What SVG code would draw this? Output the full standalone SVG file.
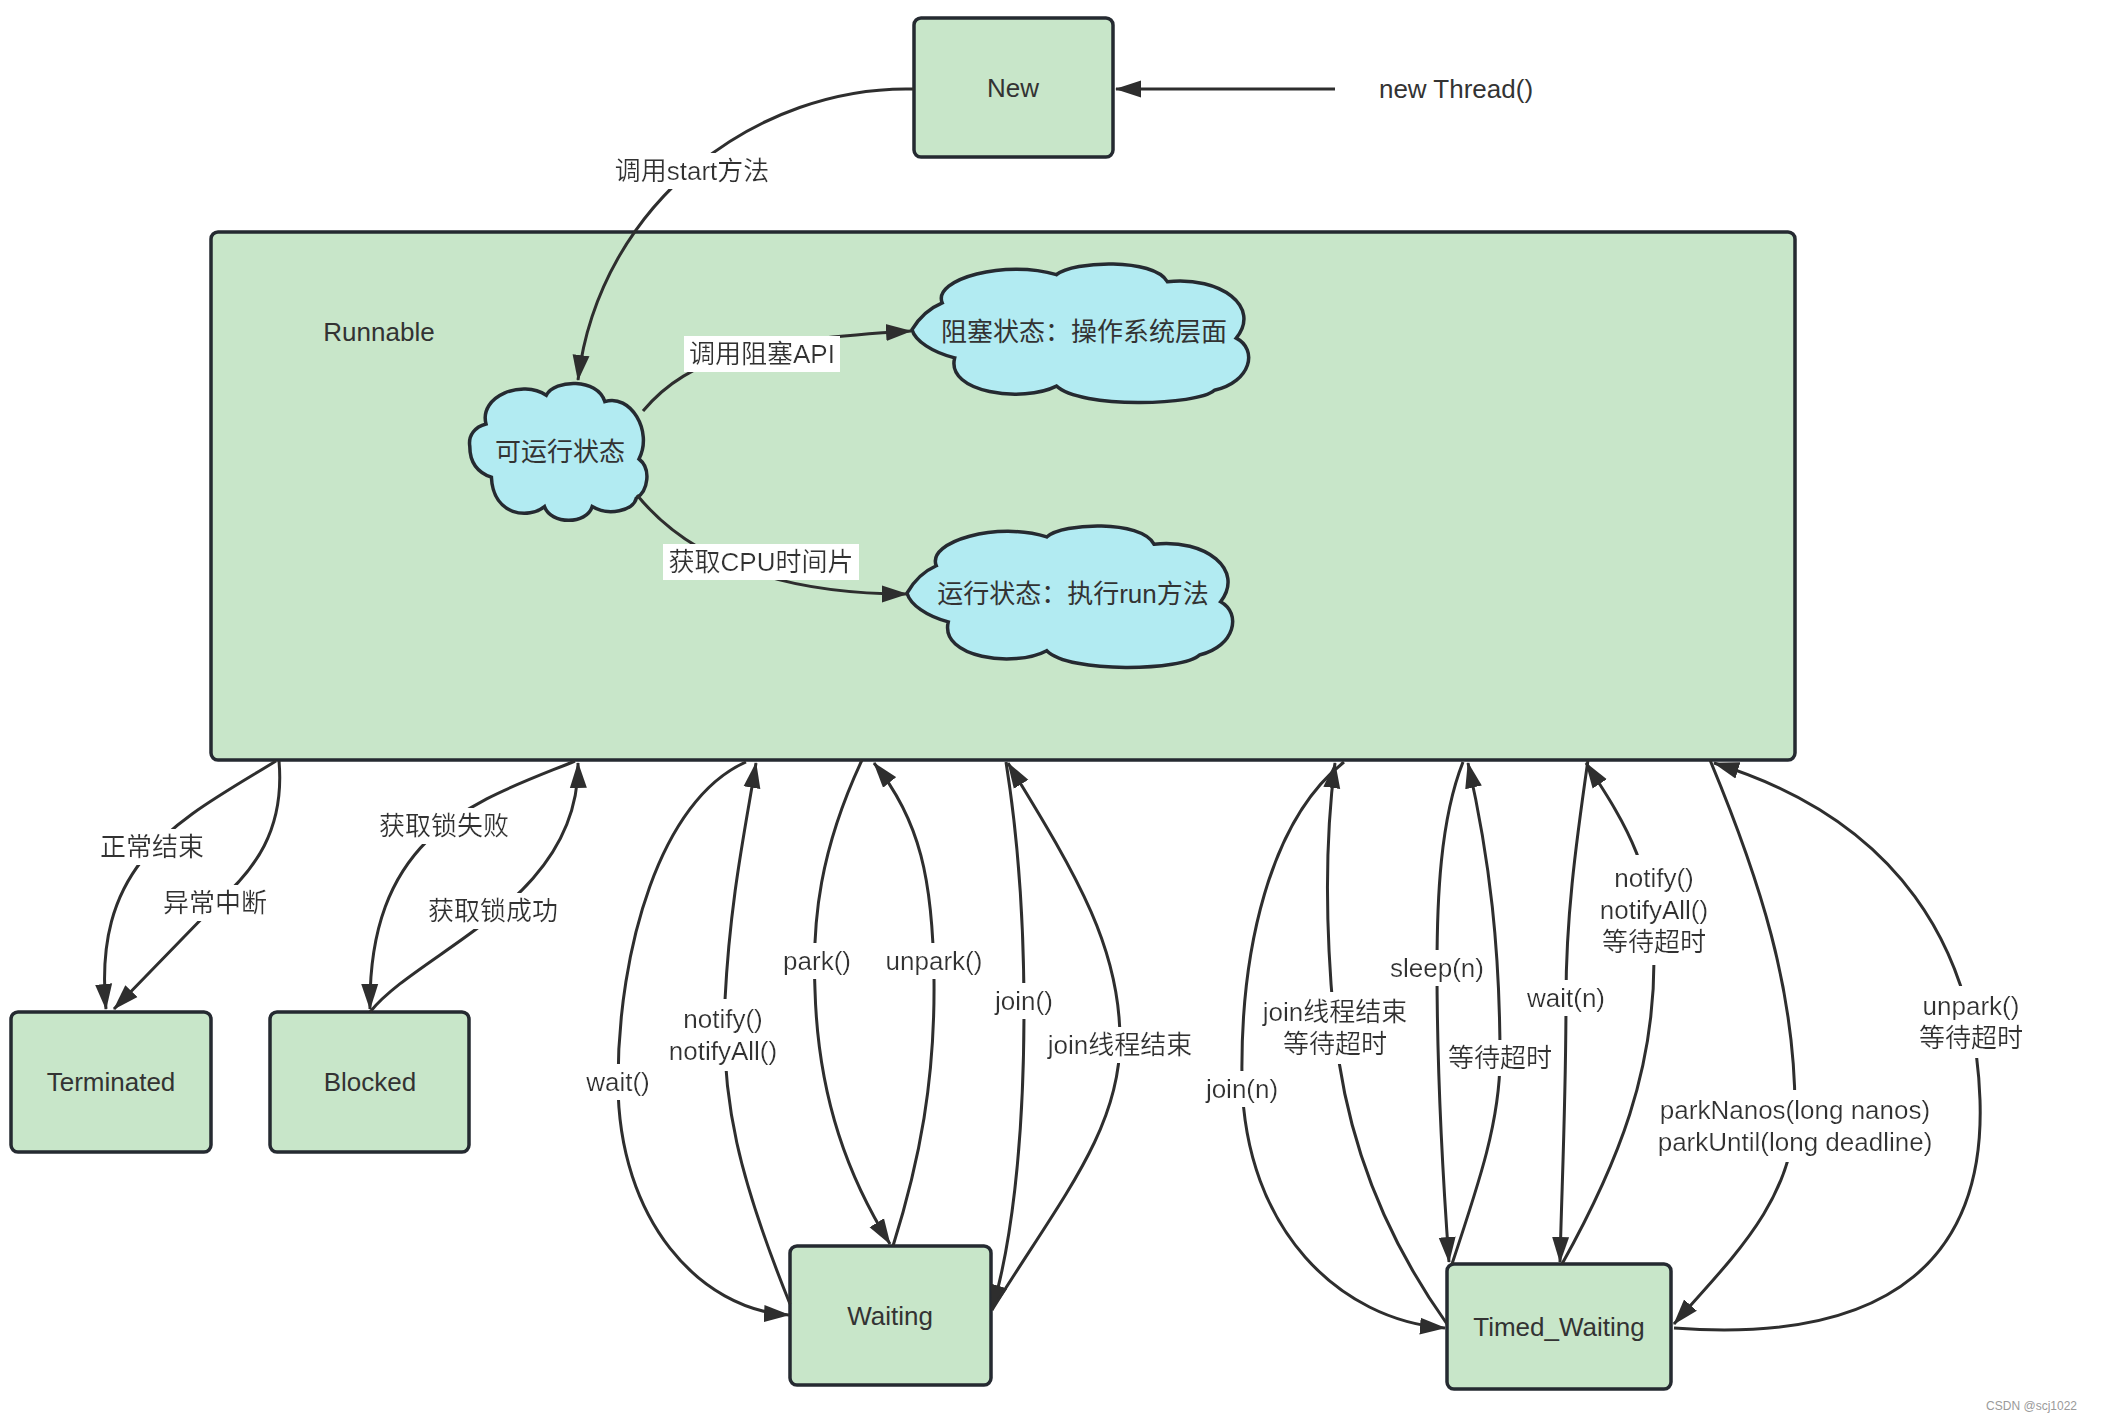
<svg xmlns="http://www.w3.org/2000/svg" width="2108" height="1422" viewBox="0 0 2108 1422">
<style>
.node{fill:#c8e6c9;stroke:#252a31;stroke-width:3.5}
.cloud{fill:#b2ebf2;stroke:#252a31;stroke-width:3.5}
.t{font-family:"Liberation Sans","Noto Sans CJK SC",sans-serif;font-size:26px;fill:#333;text-anchor:middle}
.lbl{font-family:"Liberation Sans","Noto Sans CJK SC",sans-serif;font-size:26px;fill:#333;text-anchor:middle;filter:url(#bg)}
.e{fill:none;stroke:#2e2e2e;stroke-width:3;marker-end:url(#arr)}
</style>
<defs>
<marker id="arr" markerUnits="userSpaceOnUse" markerWidth="26" markerHeight="18" viewBox="0 0 26 18" refX="25" refY="9" orient="auto">
<path d="M0,0.5 L26,9 L0,17.5 Z" fill="#2e2e2e"/>
</marker>
<filter id="bg" x="-0.03" y="-0.08" width="1.06" height="1.16">
<feFlood flood-color="#ffffff"/>
<feComposite in="SourceGraphic"/>
</filter>
</defs>
<rect width="2108" height="1422" fill="#ffffff"/>

<g id="runnable">
<rect class="node" x="211" y="232" width="1584" height="528" rx="7"/>
<text class="t" x="379" y="341">Runnable</text>
</g>

<g id="new">
<rect class="node" x="914" y="18" width="199" height="139" rx="7"/>
<text class="t" x="1013" y="97">New</text>
</g>
<g id="newThread">
<text class="t" x="1456" y="98">new Thread()</text>
</g>

<g id="runnable-state">
<path class="cloud" vector-effect="non-scaling-stroke" transform="translate(468,382) scale(1.80,1.40)" d="M 1 46 C 0 38, 4 32, 10 30 C 6 10, 30 -2, 43.5 9.5 C 48 -2, 72 -3, 76 14 C 90 8, 103 35, 95 55 C 102 62, 100 78, 93.5 83 C 92 92, 78 96, 69 89 C 66 102, 46 102, 42.5 89 C 34 98, 14 96, 13 68 C 4 64, 1 55, 1 46 Z"/>
<text class="t" x="560" y="461">可运行状态</text>
</g>
<g id="blocked-state">
<path class="cloud" vector-effect="non-scaling-stroke" transform="translate(912,262) scale(3.36,1.41)" d="M 0 48 C 2 40, 5 33, 9 29 C 6 12, 28 -2, 43 9 C 48 -1, 72 -3, 76 14 C 92 10, 104 32, 96.5 54 C 103 62, 101 85, 90 91 C 85 102, 50 104, 43 88 C 33 100, 10 93, 12.7 68 C 6 64, 1 56, 0 48 Z"/>
<text class="t" x="1084" y="341">阻塞状态：操作系统层面</text>
</g>
<g id="running-state">
<path class="cloud" vector-effect="non-scaling-stroke" transform="translate(907,524) scale(3.25,1.44)" d="M 0 48 C 2 40, 5 33, 9 29 C 6 12, 28 -2, 43 9 C 48 -1, 72 -3, 76 14 C 92 10, 104 32, 96.5 54 C 103 62, 101 85, 90 91 C 85 102, 50 104, 43 88 C 33 100, 10 93, 12.7 68 C 6 64, 1 56, 0 48 Z"/>
<text class="t" x="1073" y="603">运行状态：执行run方法</text>
</g>

<g id="terminated">
<rect class="node" x="11" y="1012" width="200" height="140" rx="7"/>
<text class="t" x="111" y="1091">Terminated</text>
</g>
<g id="blocked">
<rect class="node" x="270" y="1012" width="199" height="140" rx="7"/>
<text class="t" x="370" y="1091">Blocked</text>
</g>
<g id="waiting">
<rect class="node" x="790" y="1246" width="201" height="139" rx="7"/>
<text class="t" x="890" y="1325">Waiting</text>
</g>
<g id="timed-waiting">
<rect class="node" x="1447" y="1264" width="224" height="125" rx="7"/>
<text class="t" x="1559" y="1336">Timed_Waiting</text>
</g>

<g id="connectors">
<path class="e" d="M 1335 89 L 1116 89"/>
<path class="e" d="M 914 89 C 760 85, 600 200, 578 380"/>
<path class="e" d="M 643 411 C 690 355, 760 340, 911 331"/>
<path class="e" d="M 637 495 C 690 560, 780 594, 907 594"/>
<path class="e" d="M 276 761 C 180 820, 92 860, 106 1009"/>
<path class="e" d="M 279 761 C 285 830, 255 870, 215 905 L 114 1009"/>
<path class="e" d="M 575 761 C 480 800, 368 830, 370 1009"/>
<path class="e" d="M 370 1012 C 420 950, 580 900, 578 763"/>
<path class="e" d="M 746 762 C 660 800, 618 950, 618 1082 C 618 1220, 700 1310, 789 1315"/>
<path class="e" d="M 790 1304 C 740 1180, 720 1100, 725 1000 C 730 900, 745 830, 756 763"/>
<path class="e" d="M 862 760 C 820 850, 812 920, 815 990 C 818 1100, 850 1180, 890 1244"/>
<path class="e" d="M 893 1246 C 920 1160, 935 1080, 934 980 C 933 880, 920 820, 874 763"/>
<path class="e" d="M 1006 762 C 1020 850, 1024 930, 1024 1010 C 1024 1150, 1010 1250, 992 1310"/>
<path class="e" d="M 992 1310 C 1060 1200, 1120 1130, 1120 1040 C 1120 950, 1080 880, 1008 763"/>
<path class="e" d="M 1344 762 C 1270 820, 1240 950, 1242 1080 C 1245 1230, 1340 1320, 1445 1328"/>
<path class="e" d="M 1447 1324 C 1380 1230, 1345 1130, 1335 1030 C 1325 930, 1325 840, 1335 763"/>
<path class="e" d="M 1463 762 C 1440 820, 1437 900, 1437 968 C 1437 1080, 1443 1180, 1449 1262"/>
<path class="e" d="M 1452 1264 C 1480 1180, 1500 1120, 1500 1058 C 1500 950, 1490 860, 1468 763"/>
<path class="e" d="M 1588 760 C 1575 850, 1566 920, 1566 998 C 1566 1100, 1562 1180, 1560 1262"/>
<path class="e" d="M 1562 1264 C 1620 1160, 1654 1070, 1654 960 C 1654 870, 1630 830, 1586 763"/>
<path class="e" d="M 1710 760 C 1760 880, 1795 990, 1795 1110 C 1795 1200, 1730 1260, 1674 1324"/>
<path class="e" d="M 1674 1328 C 1900 1345, 1985 1250, 1980 1100 C 1975 950, 1900 820, 1714 763"/>

<text class="lbl" x="692" y="180">调用start方法</text>
<text class="lbl" x="762" y="363">调用阻塞API</text>
<text class="lbl" x="761" y="571">获取CPU时间片</text>
<text class="lbl" x="152" y="856">正常结束</text>
<text class="lbl" x="215" y="912">异常中断</text>
<text class="lbl" x="444" y="835">获取锁失败</text>
<text class="lbl" x="493" y="920">获取锁成功</text>
<text class="lbl" x="618" y="1091">wait()</text>
<text class="lbl" x="723" y="1028"><tspan x="723">notify()</tspan><tspan x="723" dy="32">notifyAll()</tspan></text>
<text class="lbl" x="817" y="970">park()</text>
<text class="lbl" x="934" y="970">unpark()</text>
<text class="lbl" x="1024" y="1010">join()</text>
<text class="lbl" x="1120" y="1054">join线程结束</text>
<text class="lbl" x="1242" y="1098">join(n)</text>
<text class="lbl" x="1335" y="1021"><tspan x="1335">join线程结束</tspan><tspan x="1335" dy="32">等待超时</tspan></text>
<text class="lbl" x="1437" y="977">sleep(n)</text>
<text class="lbl" x="1500" y="1067">等待超时</text>
<text class="lbl" x="1566" y="1007">wait(n)</text>
<text class="lbl" x="1654" y="887"><tspan x="1654">notify()</tspan><tspan x="1654" dy="32">notifyAll()</tspan><tspan x="1654" dy="32">等待超时</tspan></text>
<text class="lbl" x="1795" y="1119"><tspan x="1795">parkNanos(long nanos)</tspan><tspan x="1795" dy="32">parkUntil(long deadline)</tspan></text>
<text class="lbl" x="1971" y="1015"><tspan x="1971">unpark()</tspan><tspan x="1971" dy="32">等待超时</tspan></text>
</g>

<text x="2077" y="1410" font-family="Liberation Sans, sans-serif" font-size="12" fill="#9a9a9a" text-anchor="end">CSDN @scj1022</text>
</svg>
